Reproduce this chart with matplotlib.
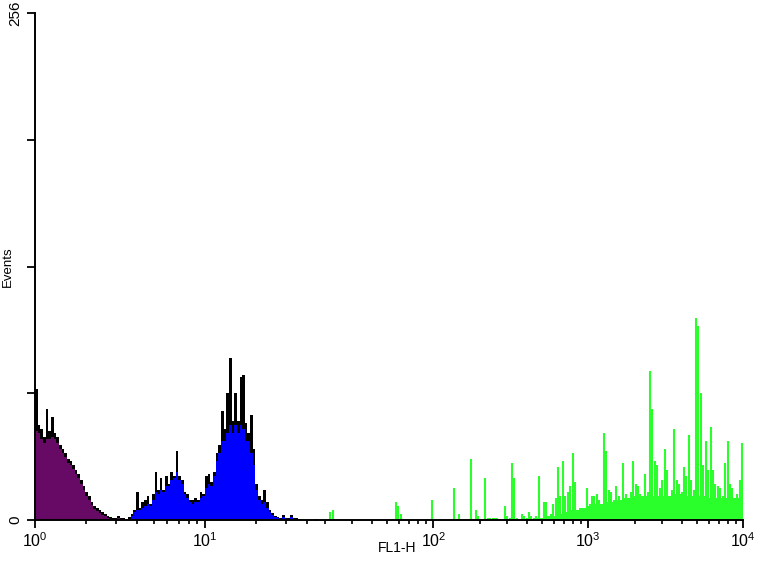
import numpy as np
import matplotlib
matplotlib.use("Agg")
import matplotlib.pyplot as plt
from matplotlib.ticker import FixedLocator, NullFormatter

plt.rcParams['font.family'] = ['Liberation Sans', 'DejaVu Sans']
plt.rcParams['mathtext.fontset'] = 'custom'
plt.rcParams['mathtext.rm'] = 'Liberation Sans'

# ---- data: histogram channels, 64 channels per decade ----
ch_per_decade = 64

purple_start = 0
purple_outline = [66, 48, 46, 42, 56, 45, 52, 44, 42, 38, 36, 34, 31, 30, 28, 25, 23, 20,
                  17, 14, 12, 9, 7, 6, 5, 4, 3, 2, 1.5, 1, 1, 2, 1, 1]
purple_fill = [45, 44, 41, 39, 41, 41, 42, 41, 39, 36, 34, 32, 29, 28, 26, 23, 21, 18,
               15, 12, 10, 7.5, 5.5, 4.5, 3.5, 2.5, 1.8, 1, 0.6, 0.3, 0.3, 1, 0.3, 0.3]

blue_start = 35
blue_outline = [1.5, 3, 5, 14, 6, 9, 10, 12, 8, 13, 24, 15, 21, 15, 22, 18, 24, 22, 35, 22,
                20, 14, 13, 10, 10, 11, 10, 14, 13, 22, 23, 19, 24, 34, 38, 55, 46, 64, 82,
                50, 64, 50, 72, 73, 49, 44, 53, 36, 18, 12, 10, 15, 9, 5, 3.5, 2, 1.5, 1,
                2.5, 1, 1, 2.5, 1, 1, 0.5]
blue_fill = [0.5, 2, 4, 5, 5, 6, 7, 8, 7, 10, 14, 13, 15, 14, 17, 17, 20, 21, 24, 20,
             18, 13, 11, 9, 8, 9, 9, 11, 12, 16, 18, 17, 22, 30, 34, 40, 40, 44, 48,
             44, 48, 44, 48, 46, 40, 40, 34, 28, 15, 10, 8, 9, 6, 4, 2.5, 1.5, 1, 0.5,
             1.5, 0.5, 0.5, 1.5, 0.5, 0.5, 0]

green_channels = [85, 86, 112, 113, 114, 127, 136, 138, 143, 145, 146, 149, 150, 151, 152,
                  153, 154, 157, 158, 159, 160, 161, 162, 164, 165, 166, 167, 168, 169,
                  170, 171, 173, 174, 175, 176, 177, 178, 179, 180, 181, 182, 183, 184,
                  185, 186, 187, 189, 190, 191, 192, 193, 194, 195, 196, 197, 198, 199,
                  200, 201, 202, 203, 204, 205, 206, 207, 208, 209, 210, 211, 212, 213,
                  214, 215, 216, 217, 218, 219, 220, 221, 222, 223, 224, 225, 226, 227,
                  228, 229, 230, 231, 232, 233, 234, 235, 236, 237, 238, 239, 240, 241,
                  242, 243, 244, 245, 246, 247, 248, 249, 250, 251, 252, 253, 254, 255]
green_counts = [4, 5, 9, 7, 3, 10, 16, 3, 31, 5, 2, 21, 1, 1, 1,
                1, 1, 7, 2, 1, 29, 21, 1, 3, 2, 1, 4, 2, 1,
                2, 22, 9, 9, 2, 3, 8, 11, 27, 12, 30, 12, 14, 17,
                34, 19, 5, 6, 4, 16, 8, 12, 12, 13, 10, 5, 44, 35,
                15, 14, 8, 17, 12, 10, 29, 13, 9, 14, 30, 18, 17, 13,
                11, 23, 14, 75, 56, 30, 28, 16, 20, 36, 25, 12, 15, 46,
                20, 18, 14, 27, 22, 43, 20, 15, 102, 98, 64, 28, 40, 25,
                47, 25, 18, 17, 16, 12, 29, 40, 18, 16, 11, 13, 20, 39]
green_base_start = 170
green_base = [1, 1, 1, 1, 1, 2, 2, 2, 2, 3,
              3, 3, 4, 4, 4, 5, 5, 5, 6, 6,
              6, 7, 7, 7, 8, 8, 8, 8, 9, 9,
              9, 9, 10, 10, 10, 10, 11, 11, 11, 11,
              12, 12, 12, 12, 12, 12, 12, 12, 12, 12,
              12, 12, 12, 12, 12, 12, 12, 13, 13, 13,
              13, 13, 12, 12, 12, 12, 12, 12, 12, 12,
              11, 11, 11, 11, 11, 11, 11, 11, 11, 11,
              11, 11, 11, 11, 11, 11]

# the reference is spliced from two panels with different decade widths
left_xlim_decades = (0.0, 1.653)
right_xlim_decades = (1.243, 4.0)
left_major = [1, 10]
left_major_labels = [r'$\mathregular{10^{0}}$', r'$\mathregular{10^{1}}$']
right_major = [100, 1000, 10000]
right_major_labels = [r'$\mathregular{10^{2}}$', r'$\mathregular{10^{3}}$',
                      r'$\mathregular{10^{4}}$']
y_ticks = [0, 64, 128, 192, 256]
y_tick_labels = ['0', '', '', '', '256']


def edges(start, n):
    ch = np.arange(start, start + n + 1)
    return 10 ** (ch / ch_per_decade)


def centers(chs):
    return 10 ** ((np.asarray(chs) + 0.5) / ch_per_decade)


W, H = 761, 565
fig = plt.figure(figsize=(W / 100, H / 100), dpi=100)
x0, xs, x1 = 35, 316, 743.3
yb, yt = 520, 13
axL = fig.add_axes([x0 / W, (H - yb) / H, (xs - x0) / W, (yb - yt) / H])
axR = fig.add_axes([xs / W, (H - yb) / H, (x1 - xs) / W, (yb - yt) / H])

# purple
axL.stairs(purple_outline, edges(purple_start, len(purple_outline)), fill=True,
           color='black', zorder=2)
axL.stairs(purple_fill, edges(purple_start, len(purple_fill)), fill=True,
           color='#660a66', zorder=3)
# blue
axL.stairs(blue_outline, edges(blue_start, len(blue_outline)), fill=True,
           color='black', zorder=2)
axL.stairs(blue_fill, edges(blue_start, len(blue_fill)), fill=True,
           color='#0000ff', zorder=3)
# green
axR.stairs(green_base, edges(green_base_start, len(green_base)), fill=True,
           color='#2bff2b', zorder=2, linewidth=0)
axR.vlines(centers(green_channels), 0, green_counts,
           color='#2bff2b', linewidth=1.5, zorder=2)

for ax, lim in ((axL, left_xlim_decades), (axR, right_xlim_decades)):
    ax.set_xscale('log')
    ax.set_xlim(10 ** lim[0], 10 ** lim[1])
    ax.set_ylim(0, 256)
    ax.patch.set_alpha(0)
    for s in ['top', 'right']:
        ax.spines[s].set_visible(False)
    ax.spines['bottom'].set_linewidth(1.4)
    ax.spines['bottom'].set_zorder(5)
    minors = [m * 10 ** d for d in range(4) for m in range(2, 10)]
    minors = [v for v in minors if 10 ** lim[0] <= v <= 10 ** lim[1]]
    ax.xaxis.set_minor_locator(FixedLocator(minors))
    ax.xaxis.set_minor_formatter(NullFormatter())
    ax.tick_params(axis='x', which='major', direction='out', length=6, width=1.3,
                   pad=2, labelsize=11.5)
    ax.tick_params(axis='x', which='minor', direction='out', length=3, width=1.2)

axL.xaxis.set_major_locator(FixedLocator(left_major))
axL.set_xticklabels(left_major_labels)
axR.xaxis.set_major_locator(FixedLocator(right_major))
axR.set_xticklabels(right_major_labels)

axL.spines['left'].set_linewidth(1.4)
axL.spines['left'].set_zorder(5)
axL.set_yticks(y_ticks)
axL.set_yticklabels(y_tick_labels, rotation=90, va='center', fontsize=11)
axL.tick_params(axis='y', which='major', direction='out', length=6, width=1.3, pad=3)

axR.spines['left'].set_visible(False)
axR.tick_params(axis='y', left=False, labelleft=False)

axL.set_ylabel('Events', fontsize=9.5)
axL.yaxis.set_label_coords(-21 / (xs - x0), 0.5)
fig.text(397 / W, 1 - 548 / H, 'FL1-H', fontsize=10, ha='center', va='center')

fig.savefig('out.png', dpi=100)
